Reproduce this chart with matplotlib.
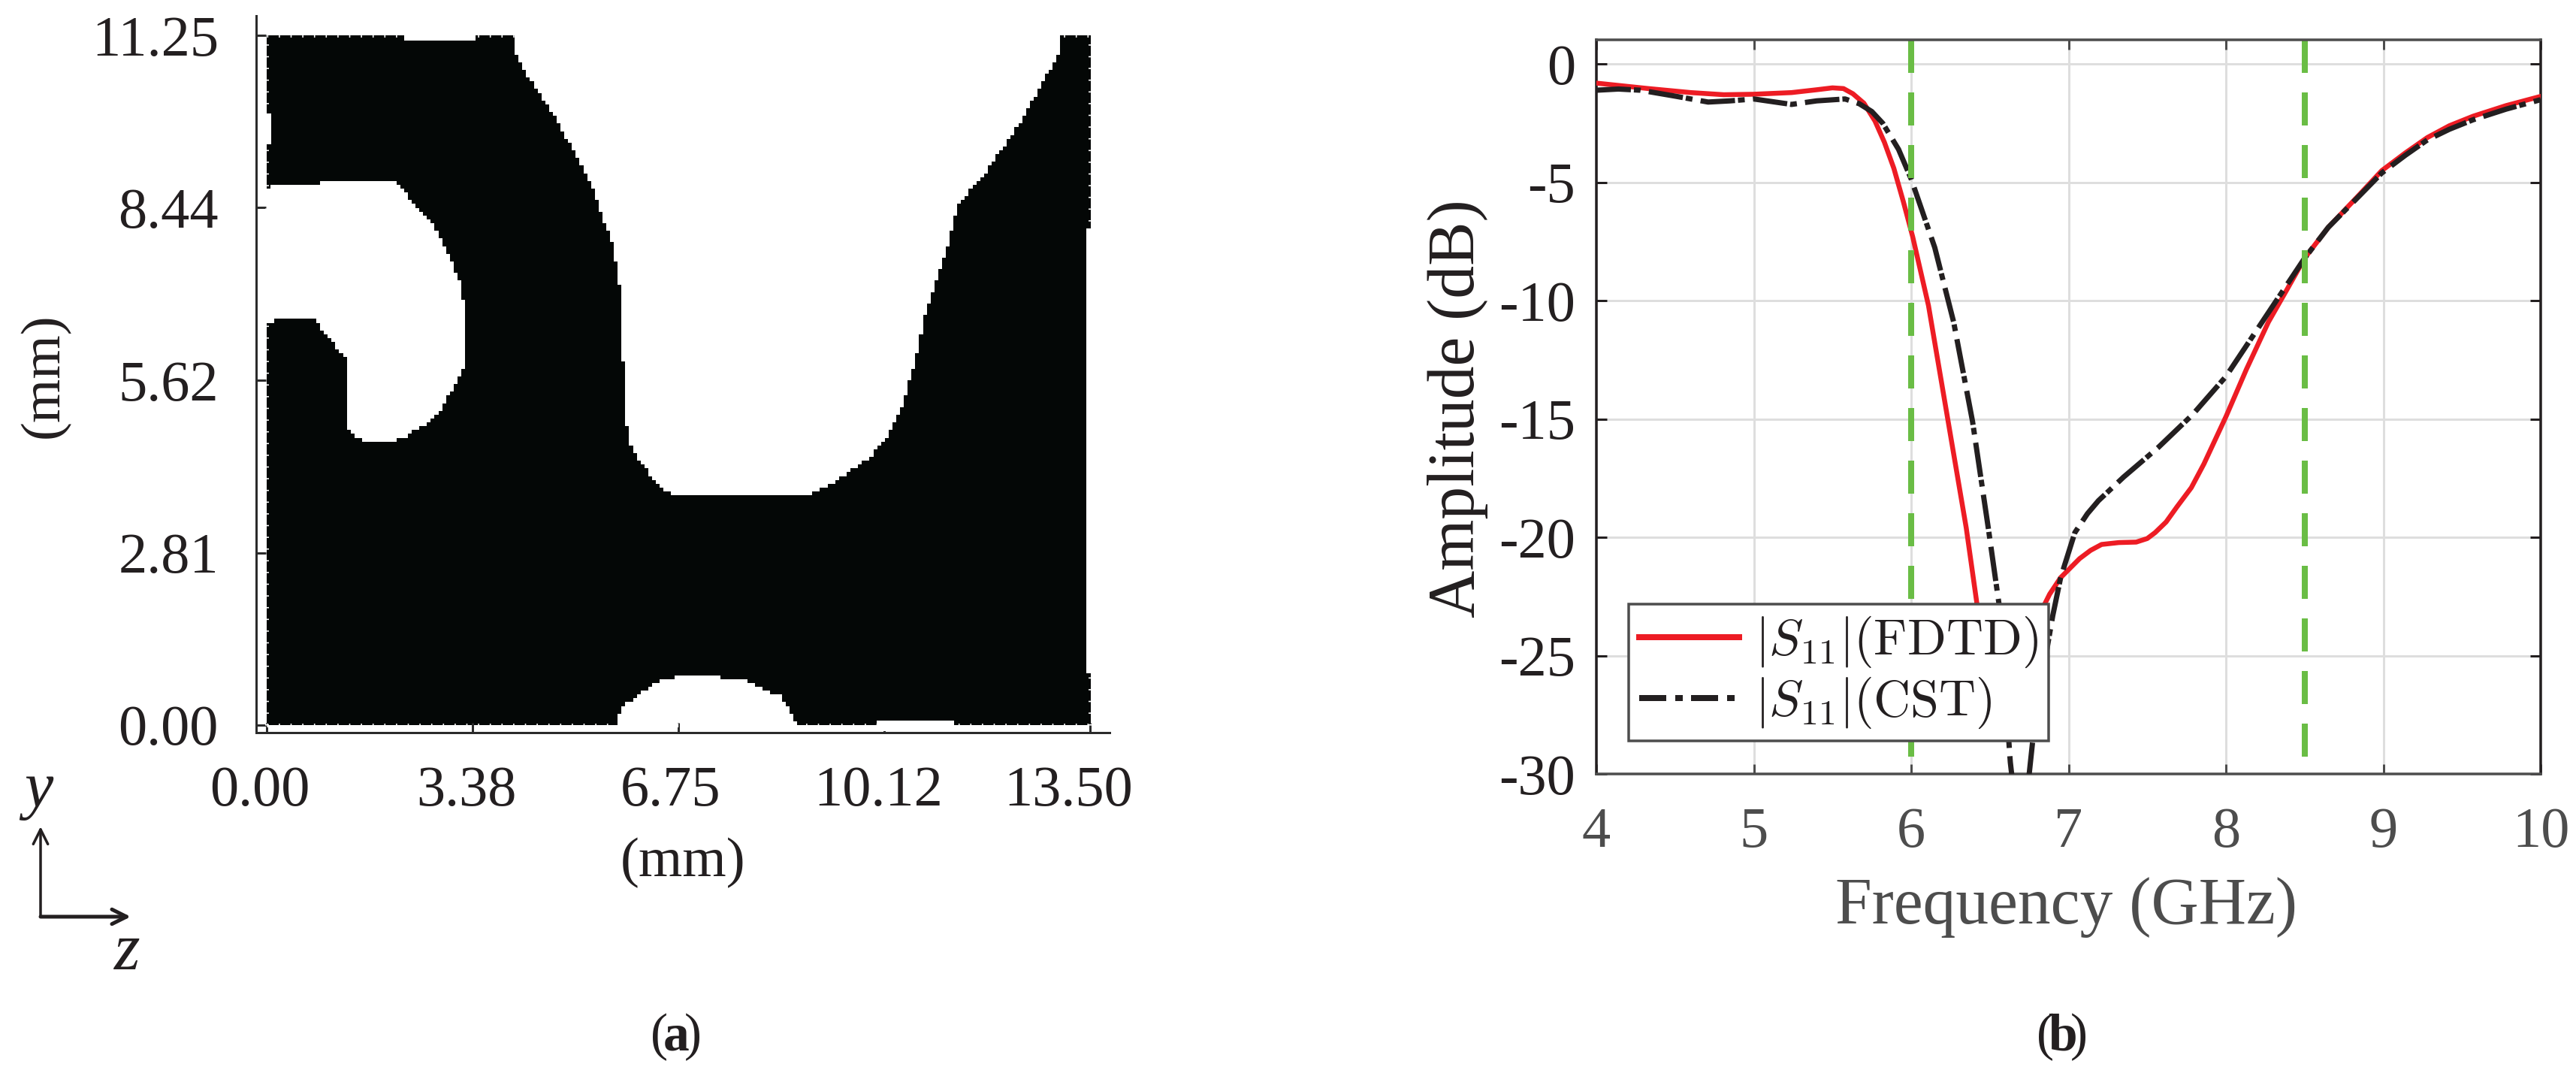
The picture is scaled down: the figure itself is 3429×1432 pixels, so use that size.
import numpy as np
import matplotlib
matplotlib.use("Agg")
import matplotlib.pyplot as plt
from matplotlib.colors import ListedColormap
from matplotlib.lines import Line2D
from matplotlib.path import Path
from matplotlib.transforms import ScaledTranslation

# ---------- data: panel (a), white regions of the patch, in mm
upper_z = [4.03,4.09,4.33,4.76,5.06,5.37,5.67,5.79,5.83,5.88,5.98,6.28,6.65,8.84,9.26,9.87,10.18,10.42,10.63,10.79,11.09,11.33,11.82,12.31,12.67,12.98,12.98]
upper_y = [11.3,10.96,10.49,9.86,9.31,8.68,7.82,7.11,6.32,4.99,4.48,4.08,3.73,3.73,3.93,4.36,4.71,5.22,5.93,6.72,7.58,8.48,9.07,9.78,10.41,10.96,11.3]
left_z = [-0.1,0.13,0.86,0.99,2.05,2.26,2.69,2.99,3.2,3.27,3.24,2.99,2.75,2.2,1.57,1.29,1.29,0.8,0.19,-0.1]
left_y = [8.72,8.82,8.84,8.89,8.89,8.68,8.21,7.66,7.11,6.48,5.85,5.38,4.99,4.66,4.63,4.87,5.97,6.6,6.61,6.52]
bottom_z = [5.76,5.79,6.4,6.83,7.8,8.41,8.78]
bottom_y = [-0.1,0.27,0.71,0.82,0.76,0.47,-0.1]
sliver_top_z = [2.26,3.42,3.42,2.26]
sliver_top_y = [11.17,11.17,11.3,11.3]
sliver_bot_z = [10.0,11.27,11.27,10.0]
sliver_bot_y = [-0.1,-0.1,0.07,0.07]
sliver_left_z = [-0.1,0.08,0.08,-0.1]
sliver_left_y = [9.47,9.47,9.98,9.98]
sliver_right_z = [13.44,13.6,13.6,13.44]
sliver_right_y = [0.85,0.85,8.1,8.1]
a_xticks = [0.00, 3.38, 6.75, 10.12, 13.50]
a_yticks = [0.00, 2.81, 5.62, 8.44, 11.25]

# ---------- data: panel (b)
freq_ticks = [4, 5, 6, 7, 8, 9, 10]
amp_ticks = [0, -5, -10, -15, -20, -25, -30]
band_edges = [6.0, 8.5]
fdtd_f = [4,4.33,4.6,4.81,5.0,5.24,5.4,5.5,5.57,5.63,5.7,5.77,5.83,5.89,5.95,6.01,6.11,6.23,6.35,6.42,6.5,6.6,6.68,6.75,6.82,6.88,6.95,7.01,7.07,7.14,7.21,7.32,7.43,7.5,7.55,7.62,7.69,7.78,7.86,8.0,8.13,8.27,8.39,8.5,8.65,8.85,8.99,9.14,9.28,9.42,9.57,9.78,10]
fdtd_s = [-0.8,-1.03,-1.2,-1.29,-1.27,-1.2,-1.08,-1.0,-1.03,-1.25,-1.65,-2.4,-3.3,-4.4,-5.8,-7.3,-10.2,-14.9,-19.6,-22.9,-25.2,-27.2,-27.6,-26.2,-23.2,-22.4,-21.7,-21.3,-20.9,-20.55,-20.3,-20.22,-20.2,-20.05,-19.8,-19.35,-18.7,-17.9,-16.9,-14.9,-12.9,-10.9,-9.5,-8.2,-6.9,-5.5,-4.5,-3.75,-3.1,-2.6,-2.2,-1.75,-1.36]
cst_f = [4,4.14,4.28,4.5,4.71,4.85,5,5.24,5.4,5.58,5.67,5.75,5.82,5.92,6.0,6.15,6.27,6.39,6.49,6.56,6.63,6.69,6.75,6.79,6.84,6.9,6.95,7.04,7.12,7.19,7.35,7.57,7.79,8,8.22,8.36,8.5,8.65,8.85,8.99,9.14,9.28,9.42,9.57,9.78,10]
cst_s = [-1.1,-1.05,-1.1,-1.35,-1.6,-1.55,-1.47,-1.7,-1.55,-1.47,-1.67,-2.0,-2.5,-3.6,-4.85,-7.75,-10.9,-15.1,-19.6,-22.9,-29.5,-33.0,-30.0,-27.5,-25.6,-23.3,-21.7,-19.8,-19.0,-18.45,-17.45,-16.2,-14.8,-13.2,-11.0,-9.6,-8.2,-6.9,-5.55,-4.6,-3.85,-3.2,-2.75,-2.35,-1.9,-1.5]
labels = [r'$|S_{11}|(\mathrm{FDTD})$', r'$|S_{11}|(\mathrm{CST})$']

# ---------- style
W, H = 3430, 1432
DPI = 100
px = 72 / DPI
plt.rcParams['font.family'] = ['Liberation Serif', 'DejaVu Serif']
plt.rcParams['mathtext.fontset'] = 'cm'
plt.rcParams['lines.scale_dashes'] = False
DARK = '#231f20'
GREY = '#4d4d4d'
RED = '#ed1c24'
GREEN = '#6abd45'
TICK_FS = 55

fig = plt.figure(figsize=(W / DPI, H / DPI), dpi=DPI)

def axes_px(l, t, r, b):
    return fig.add_axes([l / W, 1 - b / H, (r - l) / W, (b - t) / H])

def ftext(x, y, s, **kw):
    return fig.text(x / W, 1 - y / H, s, **kw)

# ---------- panel (a)
ax = axes_px(341, 21, 1477, 975)
ax.set_xlim(-14 / 81.2, 13.5 + 26 / 81.2)
ax.set_ylim(-10 / 81.6, 11.25 + 26 / 81.6)
cell = 0.0625
zc = np.arange(cell / 2, 13.5, cell)
yc = np.arange(cell / 2, 11.25, cell)
ZZ, YY = np.meshgrid(zc, yc)
pts = np.column_stack([ZZ.ravel(), YY.ravel()])
mask = np.ones(ZZ.shape)
for z, y in [(upper_z, upper_y), (left_z, left_y), (bottom_z, bottom_y)]:
    mask[Path(np.column_stack([z, y])).contains_points(pts).reshape(ZZ.shape)] = 0
ax.imshow(mask, origin='lower', extent=(0, 13.5, 0, 11.25), aspect='auto',
          cmap=ListedColormap(['white', '#040706']), vmin=0, vmax=1,
          interpolation='nearest', zorder=1)
for z, y in [(sliver_top_z, sliver_top_y), (sliver_bot_z, sliver_bot_y),
             (sliver_left_z, sliver_left_y), (sliver_right_z, sliver_right_y)]:
    ax.fill(z, y, color='white', lw=0, zorder=2)
# comb-like fringe on the patch outline
edge_style = dict(color='white', lw=5 * px, dashes=(1.6 * px, 14 * px), zorder=3, dash_capstyle='butt')
ax.plot([0, 13.5], [11.25, 11.25], **edge_style)
ax.plot([0, 13.5], [0, 0], **edge_style)
ax.plot([0, 0], [0, 11.25], **edge_style)
ax.plot([13.5, 13.5], [0, 11.25], **edge_style)

for s in ('top', 'right'):
    ax.spines[s].set_visible(False)
for s in ('left', 'bottom'):
    ax.spines[s].set_linewidth(3 * px)
    ax.spines[s].set_color('#2b2b2b')
ax.set_xticks(a_xticks, [f'{v:.2f}' for v in a_xticks])
ax.set_yticks(a_yticks, [f'{v:.2f}' for v in a_yticks])
ax.tick_params(axis='both', direction='in', length=13 * px, width=3 * px, color='#2b2b2b',
               labelsize=TICK_FS, labelcolor=DARK)
ax.tick_params(axis='x', pad=44 * px)
ax.tick_params(axis='y', pad=50 * px)
for lab, dx in zip(ax.get_xticklabels(), [-9, -9, -10, -7, -29]):
    lab.set_transform(lab.get_transform() + ScaledTranslation(dx * px / 72, 0, fig.dpi_scale_trans))
ftext(909, 1148, '(mm)', fontsize=54, color=DARK, ha='center', va='center')
ftext(59, 500, '(mm)', fontsize=54, color=DARK, ha='center', va='center', rotation=90)

# coordinate cross
origin = (54 / W, 1 - 1220 / H)
for tip, lw in [((54 / W, 1 - 1100 / H), 3.5), ((174 / W, 1 - 1220 / H), 5)]:
    fig.add_artist(matplotlib.patches.FancyArrowPatch(
        origin, tip, transform=fig.transFigure, arrowstyle='->,head_length=14,head_width=7',
        lw=lw * px, color=DARK, shrinkA=0, shrinkB=0, mutation_scale=1))
ftext(51, 1052, 'y', fontsize=62, style='italic', color=DARK, ha='center', va='center')
ftext(169, 1268, 'z', fontsize=64, style='italic', color=DARK, ha='center', va='center')

# ---------- panel (b)
bx = axes_px(2125, 53, 3382, 1030)
bx.set_xlim(4, 10)
bx.set_ylim(-30, 1.03)
bx.set_xticks(freq_ticks)
bx.set_yticks(amp_ticks, [str(v) for v in amp_ticks])
bx.grid(True, color='#dedede', lw=3 * px, zorder=0)
bx.set_axisbelow(True)
bx.plot(fdtd_f, fdtd_s, color=RED, lw=6.5 * px, solid_joinstyle='round', zorder=3)
bx.plot(cst_f, cst_s, color=DARK, lw=7 * px, zorder=4, dash_capstyle='butt',
        dash_joinstyle='round', dashes=(46 * px, 4 * px, 9 * px, 11 * px))
for f in band_edges:
    bx.plot([f, f], [1.03, -30], color=GREEN, lw=8 * px, dashes=(44 * px, 26 * px),
            dash_capstyle='butt', zorder=5, clip_on=False)
for s, c in [('left', DARK), ('right', DARK), ('top', GREY), ('bottom', GREY)]:
    bx.spines[s].set_linewidth(3.5 * px)
    bx.spines[s].set_color(c)
bx.spines['top'].set_zorder(6)
bx.tick_params(axis='x', direction='in', length=13 * px, width=3 * px, color=GREY, top=True,
               labelsize=TICK_FS, labelcolor=GREY, pad=44 * px)
bx.tick_params(axis='y', direction='in', length=14 * px, width=3 * px, color=DARK, right=True,
               labelsize=TICK_FS, labelcolor=DARK, pad=28 * px)
handles = [Line2D([], [], color=RED, lw=8 * px),
           Line2D([], [], color=DARK, lw=8 * px, dash_capstyle='butt',
                  dashes=(36 * px, 12 * px, 10 * px, 11 * px))]
leg = bx.legend(handles, labels, loc='lower left', fontsize=49, frameon=True, fancybox=False,
                framealpha=1, edgecolor=GREY, facecolor='white',
                bbox_to_anchor=((2168 - 2125) / 1257, (1030 - 986) / 977),
                borderaxespad=0, borderpad=0.2, handlelength=1.96, handletextpad=0.31,
                labelspacing=0.12, labelcolor=DARK)
leg.get_frame().set_linewidth(3.5 * px)
leg.set_zorder(7)
ftext(2751, 1207, 'Frequency (GHz)', fontsize=63, color=GREY, ha='center', va='center')
ftext(1941, 544, 'Amplitude (dB)', fontsize=63, color=DARK, ha='center', va='center', rotation=90)

# ---------- captions
for x, letter in [(900, 'a'), (2745, 'b')]:
    ftext(x, 1378, rf'(', fontsize=50, color=DARK, ha='right', va='center', x=None) if False else None
    t = ftext(x, 1380, '(', fontsize=50, color=DARK, ha='center', va='center')
    t.set_position(((x - 22) / W, 1 - 1380 / H))
    t = ftext(x, 1380, letter, fontsize=50, color=DARK, ha='center', va='center', fontweight='bold')
    t = ftext(x + 22, 1380, ')', fontsize=50, color=DARK, ha='center', va='center')

fig.savefig('out.png', dpi=DPI, facecolor='white')
